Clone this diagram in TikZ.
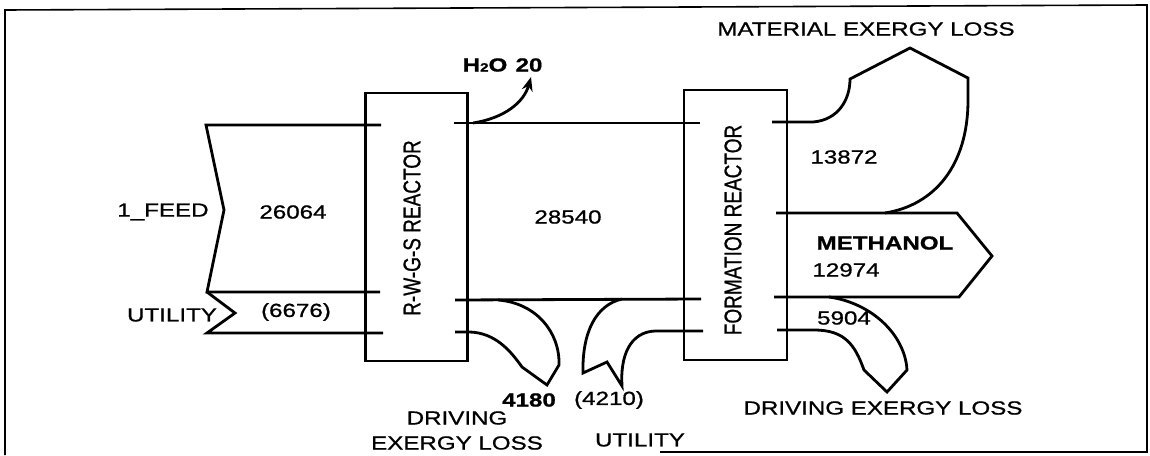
\documentclass[tikz,border=0pt]{standalone}
\usepackage{fontspec}
\setmainfont{Liberation Sans}[FakeStretch=1.27, FakeBold=0.9]
\newfontfamily\plainsans{Liberation Sans}[FakeBold=0.9]
\usetikzlibrary{arrows.meta}
\tikzset{
  flow/.style={line width=2.8pt, line join=miter, line cap=butt},
  reactor/.style={draw, line width=2.8pt, rectangle, inner sep=0pt},
  lbl/.style={inner sep=0pt, font=\fontsize{19}{22}\selectfont},
  blbl/.style={inner sep=0pt, font=\bfseries\fontsize{19}{22}\selectfont},
  rlbl/.style={inner sep=0pt, rotate=90, font=\plainsans\fontsize{19}{22}\selectfont},
  frame/.style={line width=1.6pt}
}
\begin{document}
\begin{tikzpicture}[x=1pt,y=-1pt]
\useasboundingbox (0,0) rectangle (1150,455);
% frame
\draw[frame] (660,452) -- (1147,452) -- (1147,5) -- (5,10) -- (5,455);

% reactors
\node[reactor, minimum width=102pt, minimum height=268pt] (rwgs) at (416.5,227) {};
\node[rlbl] (rwgstxt) at (412,228) {\scalebox{1}[1.27]{R-W-G-S REACTOR}};
\node[reactor, minimum width=103pt, minimum height=270pt] (form) at (735.5,225) {};
\node[rlbl] (formtxt) at (733,230) {\scalebox{1}[1.27]{FORMATION REACTOR}};

% feed
\draw[flow] (381,125) -- (206,125) -- (224,210) -- (207,292) -- (380,292);
% utility 1
\draw[flow] (207,292) -- (235,313) -- (207,333) -- (383,333);

% stream between reactors
\draw[flow] (454,123) -- (700,123);
\draw[flow] (455,300) -- (701,299);
% H2O arrow
\coordinate (h2ostart) at (473,123);
\coordinate (h2otip) at (531,77);
\draw[line width=2.8pt, -{Stealth[length=14pt,width=11pt]}] (h2ostart) .. controls (505,118) and (524,102) .. (h2otip);

% driving loss 1
\draw[flow] (455,332) -- (470,332) .. controls (495,333) and (510,350) .. (522,367)
  -- (547,385) -- (559,365) .. controls (560,332) and (536,303) .. (498,300);

% utility 2
\draw[flow] (622,299) .. controls (596,305) and (582,332) .. (583,373)
  -- (607,362) -- (622,386) .. controls (620,356) and (630,332) .. (655,331) -- (703,331);

% material exergy loss
\draw[flow] (772,122) -- (813,122) .. controls (838,120) and (850,100) .. (850,79)
  -- (910,48) -- (968,78) -- (968,100) .. controls (968,165) and (935,205) .. (885,213);
% methanol
\draw[flow] (776,213) -- (957,213) -- (992,256) -- (959,297) -- (774,297);
% driving loss 2
\draw[flow] (777,330) -- (814,330) .. controls (845,330) and (855,345) .. (864,370)
  -- (887,392) -- (907,370) .. controls (905,335) and (872,303) .. (829,297);

% labels
\node[blbl] (h2o) at (485,65) {H{\fontsize{12}{12}\selectfont 2}O};
\node[blbl] (h2oval) at (529,65) {20};
\node[lbl] (matloss) at (866,29) {MATERIAL EXERGY LOSS};
\node[lbl] (v13872) at (844,157) {13872};
\node[blbl] (meth) at (885,243) {METHANOL};
\node[lbl] (v12974) at (846,270) {12974};
\node[lbl] (v5904) at (844,318) {5904};
\node[lbl] (drv2) at (883,408) {DRIVING EXERGY LOSS};
\node[lbl] (v4210) at (609,400) {(4210)};
\node[lbl] (util2) at (640,440) {UTILITY};
\node[blbl] (v4180) at (529,400) {4180};
\node[lbl] (drv1a) at (457,418) {DRIVING};
\node[lbl] (drv1b) at (457,443) {EXERGY LOSS};
\node[lbl] (feed) at (163,212) {1\_FEED};
\node[lbl] (v26064) at (293,212) {26064};
\node[lbl] (v28540) at (568,217) {28540};
\node[lbl] (util1) at (172,315) {UTILITY};
\node[lbl] (v6676) at (296,312) {(6676)};
\end{tikzpicture}
\end{document}
